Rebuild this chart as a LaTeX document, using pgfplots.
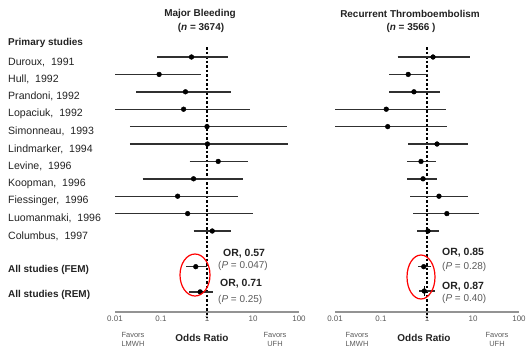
\documentclass[border=0pt]{standalone}
\usepackage{fontspec}
\setmainfont{Liberation Sans}
\usepackage{pgfplots}
\pgfplotsset{compat=1.18}
\definecolor{txt}{HTML}{222222}
\definecolor{gtxt}{HTML}{5A5A5A}
\definecolor{cil}{HTML}{303030}
\begin{document}
\begin{tikzpicture}[x=1bp,y=1bp]
\useasboundingbox (0,0) rectangle (527,349);
% ---------------- Major bleeding ----------------
\begin{axis}[
    at={(115bp,37bp)}, anchor=south west,
    scale only axis, width=184bp, height=265bp,
    xmode=log, xmin=0.01, xmax=100,
    ymin=-0.575, ymax=14.655, y dir=reverse,
    axis x line*=bottom, axis y line=none,
    x axis line style={draw=gray!85, line width=2bp},
    xtick={0.01,0.1,1,10,100},
    xticklabels={0.01,0.1,1,10,100},
    major tick length=0pt, minor tick length=0pt,
    xticklabel style={font=\fontsize{8}{9}\selectfont, text=gtxt},
    clip=false]
\addplot[black, line width=1.3bp, dash pattern=on 2.5bp off 2bp] coordinates {(1,-0.575) (1,15.0)};
\addplot[draw=cil, line width=1.4bp, mark=none, unbounded coords=jump] table[row sep=\\] {
x y\\
0.082 0\\ 2.8 0\\ nan nan\\
0.01 1\\ 0.74 1\\ nan nan\\
0.029 2\\ 3.4 2\\ nan nan\\
0.01 3\\ 8.6 3\\ nan nan\\
0.021 4\\ 55 4\\ nan nan\\
0.021 5\\ 58 5\\ nan nan\\
0.42 6\\ 7.6 6\\ nan nan\\
0.04 7\\ 6.0 7\\ nan nan\\
0.01 8\\ 4.8 8\\ nan nan\\
0.01 9\\ 10 9\\ nan nan\\
0.51 10\\ 3.4 10\\ nan nan\\
0.35 12.05\\ 1.02 12.05\\ nan nan\\
0.41 13.5\\ 1.35 13.5\\
};
\addplot[only marks, mark=*, mark size=2.4bp, mark options={fill=black,draw=black}] table[row sep=\\] {
x y\\
0.46 0\\ 0.091 1\\ 0.34 2\\ 0.31 3\\ 1.0 4\\ 1.02 5\\ 1.75 6\\
0.51 7\\ 0.23 8\\ 0.38 9\\ 1.3 10\\ 0.57 12.05\\ 0.71 13.5\\
};
\end{axis}
% ---------------- Recurrent thromboembolism ----------------
\begin{axis}[
    at={(335bp,37bp)}, anchor=south west,
    scale only axis, width=184bp, height=265bp,
    xmode=log, xmin=0.01, xmax=100,
    ymin=-0.575, ymax=14.655, y dir=reverse,
    axis x line*=bottom, axis y line=none,
    x axis line style={draw=gray!85, line width=2bp},
    xtick={0.01,0.1,1,10,100},
    xticklabels={0.01,0.1,1,10,100},
    major tick length=0pt, minor tick length=0pt,
    xticklabel style={font=\fontsize{8}{9}\selectfont, text=gtxt},
    clip=false]
\addplot[black, line width=1.3bp, dash pattern=on 2.5bp off 2bp] coordinates {(1,-0.575) (1,15.0)};
\addplot[draw=cil, line width=1.4bp, mark=none, unbounded coords=jump] table[row sep=\\] {
x y\\
0.23 0\\ 8.6 0\\ nan nan\\
0.15 1\\ 1.05 1\\ nan nan\\
0.15 2\\ 1.9 2\\ nan nan\\
0.01 3\\ 2.6 3\\ nan nan\\
0.01 4\\ 2.7 4\\ nan nan\\
0.39 5\\ 7.8 5\\ nan nan\\
0.37 6\\ 1.57 6\\ nan nan\\
0.37 7\\ 1.65 7\\ nan nan\\
0.43 8\\ 7.8 8\\ nan nan\\
0.5 9\\ 13.5 9\\ nan nan\\
0.61 10\\ 1.82 10\\ nan nan\\
0.64 12.05\\ 1.22 12.05\\ nan nan\\
0.67 13.45\\ 1.5 13.45\\
};
\addplot[only marks, mark=*, mark size=2.4bp, mark options={fill=black,draw=black}] table[row sep=\\] {
x y\\
1.35 0\\ 0.39 1\\ 0.52 2\\ 0.13 3\\ 0.14 4\\ 1.65 5\\ 0.74 6\\
0.82 7\\ 1.82 8\\ 2.7 9\\ 1.05 10\\ 0.85 12.05\\ 0.87 13.45\\
};
\addplot[only marks, mark=|, mark size=5bp, mark options={line width=1.2bp, draw=black}] coordinates {(0.87,13.45)};
\end{axis}
% ---------------- titles ----------------
\begin{scope}[every node/.style={inner sep=0pt}]
\node[font=\bfseries\fontsize{10}{12}\selectfont, text=txt] at (200,335) {Major Bleeding};
\node[font=\bfseries\fontsize{10}{12}\selectfont, text=txt] at (201,321) {(\textit{n} = 3674)};
\node[font=\bfseries\fontsize{10}{12}\selectfont, text=txt] at (410,335) {Recurrent Thromboembolism};
\node[font=\bfseries\fontsize{10}{12}\selectfont, text=txt] at (411,321) {(\textit{n} = 3566 )};
% study labels
\node[anchor=west, font=\bfseries\fontsize{10}{12}\selectfont, text=txt] at (8,306) {Primary studies};
\begin{scope}[every node/.append style={anchor=west, font=\fontsize{10.6}{12}\selectfont, text=txt}]
\node at (8,287.0) {Duroux, \ 1991};
\node at (8,269.6) {Hull, \ 1992};
\node at (8,252.2) {Prandoni, 1992};
\node at (8,234.8) {Lopaciuk, \ 1992};
\node at (8,217.4) {Simonneau, \ 1993};
\node at (8,200.0) {Lindmarker, \ 1994};
\node at (8,182.6) {Levine, \ 1996};
\node at (8,165.2) {Koopman, \ 1996};
\node at (8,147.8) {Fiessinger, \ 1996};
\node at (8,130.4) {Luomanmaki, \ 1996};
\node at (8,113.0) {Columbus, \ 1997};
\end{scope}
\node[anchor=west, font=\bfseries\fontsize{10}{12}\selectfont, text=txt] at (8,79) {All studies (FEM)};
\node[anchor=west, font=\bfseries\fontsize{10}{12}\selectfont, text=txt] at (8,54) {All studies (REM)};
% OR annotations
\node[anchor=west, font=\bfseries\fontsize{10.5}{12}\selectfont, text=txt] at (223,95) {OR, 0.57};
\node[anchor=west, font=\fontsize{10}{12}\selectfont, text=gtxt] at (218,83) {(\textit{P} = 0.047)};
\node[anchor=west, font=\bfseries\fontsize{10.5}{12}\selectfont, text=txt] at (220,65) {OR, 0.71};
\node[anchor=west, font=\fontsize{10}{12}\selectfont, text=gtxt] at (218,49) {(\textit{P} = 0.25)};
\node[anchor=west, font=\bfseries\fontsize{10.5}{12}\selectfont, text=txt] at (442,96) {OR, 0.85};
\node[anchor=west, font=\fontsize{10}{12}\selectfont, text=gtxt] at (442,82) {(\textit{P} = 0.28)};
\node[anchor=west, font=\bfseries\fontsize{10.5}{12}\selectfont, text=txt] at (442,62) {OR, 0.87};
\node[anchor=west, font=\fontsize{10}{12}\selectfont, text=gtxt] at (442,50) {(\textit{P} = 0.40)};
% bottom labels
\begin{scope}[every node/.append style={font=\fontsize{7.5}{9}\selectfont, text=gtxt}]
\node at (133,14) {Favors};
\node at (133,5.5) {LMWH};
\node at (275,14) {Favors};
\node at (275,5.5) {UFH};
\node at (357,14) {Favors};
\node at (357,5.5) {LMWH};
\node at (497,14) {Favors};
\node at (497,5.5) {UFH};
\end{scope}
\node[font=\bfseries\fontsize{10}{12}\selectfont, text=txt] at (202,11) {Odds Ratio};
\node[font=\bfseries\fontsize{10}{12}\selectfont, text=txt] at (424,11) {Odds Ratio};
\end{scope}
% highlight ellipses
\draw[red, line width=1.2bp] (195,74) ellipse [x radius=15, y radius=21];
\draw[red, line width=1.2bp] (421,72) ellipse [x radius=14, y radius=22];
\end{tikzpicture}
\end{document}
